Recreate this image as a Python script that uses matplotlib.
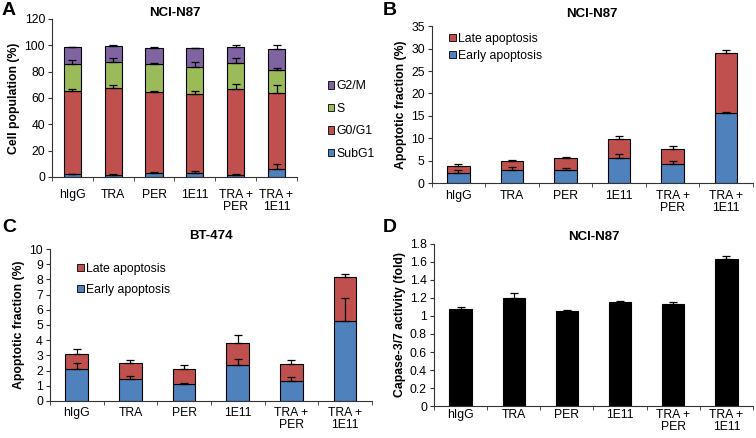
import matplotlib
matplotlib.use("Agg")
import matplotlib.pyplot as plt
import numpy as np
from matplotlib.patches import Patch

plt.rcParams['font.family'] = ['Liberation Sans', 'DejaVu Sans']

groups = ['hIgG', 'TRA', 'PER', '1E11', 'TRA +\nPER', 'TRA +\n1E11']

# Panel A - cell cycle (NCI-N87)
subg1 = [2.0, 1.5, 2.8, 3.3, 1.8, 6.4]
g0g1 = [63.6, 65.7, 61.6, 59.7, 64.9, 57.5]
s_phase = [20.4, 20.3, 21.6, 20.2, 20.1, 17.5]
g2m = [12.5, 11.7, 12.0, 14.5, 11.9, 15.8]
subg1_err = [0.5, 1.0, 0.8, 1.0, 0.5, 3.3]
g0g1_err = [1.5, 2.8, 0.5, 2.5, 3.8, 5.8]
s_err = [2.5, 2.5, 0.3, 4.0, 3.8, 1.5]
g2m_err = [0.3, 1.3, 0.7, 0.3, 1.8, 3.0]

# Panel B - apoptosis (NCI-N87)
b_early = [2.3, 2.9, 3.0, 5.6, 4.3, 15.7]
b_late = [1.45, 2.1, 2.5, 4.2, 3.4, 13.3]
b_early_err = [0.6, 0.8, 0.4, 0.8, 0.6, 0.1]
b_late_err = [0.4, 0.2, 0.4, 0.6, 0.5, 0.6]

# Panel C - apoptosis (BT-474)
c_early = [2.13, 1.47, 1.15, 2.36, 1.32, 5.25]
c_late = [0.93, 1.0, 0.93, 1.44, 1.09, 2.93]
c_early_err = [0.35, 0.2, 0.04, 0.43, 0.28, 1.5]
c_late_err = [0.37, 0.2, 0.28, 0.52, 0.26, 0.2]

# Panel D - caspase activity (NCI-N87)
casp = [1.08, 1.20, 1.055, 1.155, 1.135, 1.635]
casp_err = [0.025, 0.05, 0.015, 0.01, 0.02, 0.03]

BLUE = '#4F81BD'
RED = '#C0504D'
GREEN = '#9BBB59'
PURPLE = '#8064A2'
W = 0.42
FS = 8.8

fig = plt.figure(figsize=(7.56, 4.38), dpi=100)


def style_axes(ax, ymax, ystep, ylabel, title, xpad, tpad):
    x = np.arange(len(groups))
    ax.set_xlim(-0.5, len(groups) - 0.5)
    ax.set_ylim(0, ymax)
    ax.set_yticks(np.arange(0, ymax + ystep / 2, ystep))
    ax.set_xticks(x)
    ax.set_xticklabels(groups, fontsize=FS, linespacing=1.0)
    ax.set_xticks(np.arange(-0.5, len(groups), 1), minor=True)
    ax.tick_params(axis='x', which='major', length=0, pad=xpad)
    ax.tick_params(axis='x', which='minor', length=3, color='#333333')
    ax.tick_params(axis='y', labelsize=FS, length=3, color='#333333', pad=2)
    for sp in ['top', 'right']:
        ax.spines[sp].set_visible(False)
    for sp in ['left', 'bottom']:
        ax.spines[sp].set_color('#333333')
        ax.spines[sp].set_linewidth(0.8)
    ax.set_ylabel(ylabel, fontsize=FS, fontweight='bold', labelpad=3)
    ax.set_title(title, fontsize=9.5, fontweight='bold', pad=tpad)


def stacked(ax, layers, errs, colors):
    x = np.arange(len(groups))
    bottom = np.zeros(len(groups))
    for vals, err, col in zip(layers, errs, colors):
        vals = np.array(vals)
        ax.bar(x, vals, W, bottom=bottom, color=col, edgecolor='black', linewidth=0.8, zorder=2)
        top = bottom + vals
        ax.errorbar(x, top, yerr=[np.zeros(len(x)), err], fmt='none', ecolor='black',
                    elinewidth=0.9, capsize=3, capthick=0.9, zorder=3)
        bottom = top


def legend_handles(labels, colors):
    return [Patch(facecolor=c, edgecolor='black', linewidth=0.6, label=l) for l, c in zip(labels, colors)]


# A
axA = fig.add_axes([0.0688, 0.596, 0.324, 0.361])
stacked(axA, [subg1, g0g1, s_phase, g2m], [subg1_err, g0g1_err, s_err, g2m_err],
        [BLUE, RED, GREEN, PURPLE])
style_axes(axA, 120, 20, 'Cell population (%)', 'NCI-N87', 9, 1)
axA.legend(handles=legend_handles(['G2/M', 'S', 'G0/G1', 'SubG1'], [PURPLE, GREEN, RED, BLUE]),
           loc='center left', bbox_to_anchor=(1.08, 0.36), frameon=False, fontsize=FS,
           handlelength=0.55, handleheight=0.55, handletextpad=0.2, labelspacing=0.85)

# B
axB = fig.add_axes([0.571, 0.582, 0.425, 0.358])
stacked(axB, [b_early, b_late], [b_early_err, b_late_err], [BLUE, RED])
style_axes(axB, 35, 5, 'Apoptotic fraction (%)', 'NCI-N87', 5, 7)
axB.legend(handles=legend_handles(['Late apoptosis', 'Early apoptosis'], [RED, BLUE]),
           loc='upper left', bbox_to_anchor=(0.02, 1.03), frameon=False, fontsize=FS,
           handlelength=0.55, handleheight=0.55, handletextpad=0.2, labelspacing=0.45)

# C
axC = fig.add_axes([0.066, 0.0845, 0.426, 0.347])
stacked(axC, [c_early, c_late], [c_early_err, c_late_err], [BLUE, RED])
style_axes(axC, 10, 1, 'Apoptotic fraction (%)', 'BT-474', 4, 7)
axC.legend(handles=legend_handles(['Late apoptosis', 'Early apoptosis'], [RED, BLUE]),
           loc='upper left', bbox_to_anchor=(0.05, 0.98), frameon=False, fontsize=FS,
           handlelength=0.55, handleheight=0.55, handletextpad=0.2, labelspacing=0.7)

# D
axD = fig.add_axes([0.574, 0.073, 0.422, 0.37])
stacked(axD, [casp], [casp_err], ['black'])
style_axes(axD, 1.8, 0.2, 'Capase-3/7 activity (fold)', 'NCI-N87', 2, 3)
axD.set_yticklabels(['0', '0.2', '0.4', '0.6', '0.8', '1', '1.2', '1.4', '1.6', '1.8'])

# panel letters
for lab, (px, py) in zip('ABCD', [(2, 2), (383, 2), (2, 219), (383, 219)]):
    fig.text(px / 756, 1 - py / 438, lab, fontsize=14, fontweight='bold', va='top', ha='left')

fig.savefig('out.png', dpi=100)
